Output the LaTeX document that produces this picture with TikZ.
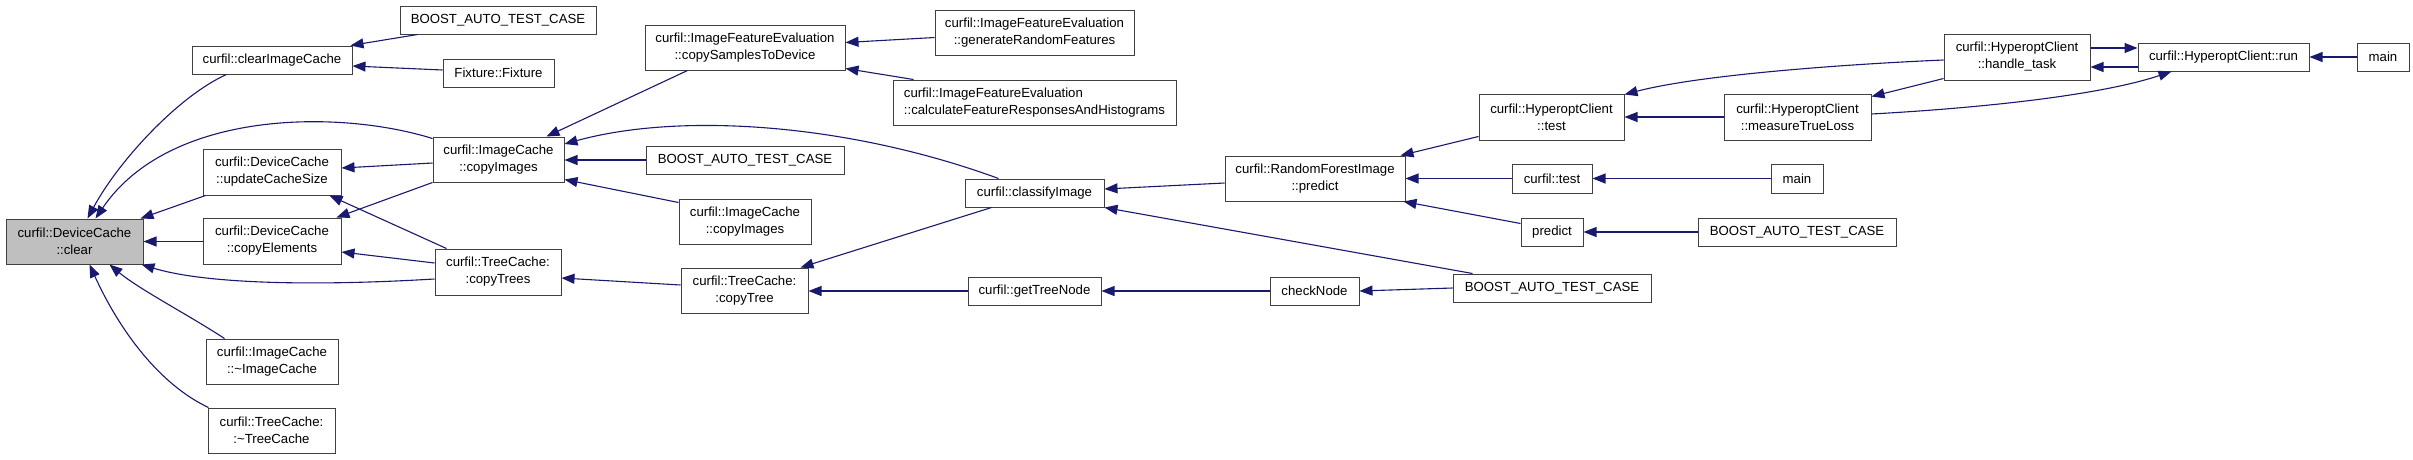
\documentclass[tikz,border=0pt]{standalone}
\usepackage{fontspec}
\setmainfont{Liberation Sans}
\usetikzlibrary{arrows.meta,calc}
\definecolor{dblue}{HTML}{191970}
\definecolor{selgray}{HTML}{BFBFBF}
\tikzset{
  box/.style={draw=black!75, line width=1pt, fill=white, inner sep=0pt, align=center,
    font=\fontsize{13.2}{17}\selectfont},
  conn/.style={draw=dblue, line width=1.1pt, {Triangle[length=13pt,width=10pt]}-},
}
\begin{document}
\begin{tikzpicture}[x=1pt,y=-1pt]
\fill[white] (0,0) rectangle (2413,459);
\useasboundingbox (0,0) rectangle (2413,459);
% column 1
\node[box, fill=selgray, minimum width=137pt, minimum height=45pt] (clear) at (74.5,241.5) {curfil::DeviceCache\\::clear};
% column 2
\node[box, minimum width=160pt, minimum height=28pt] (cic) at (272,60) {curfil::clearImageCache};
\node[box, minimum width=138pt, minimum height=46pt] (ucs) at (272,172) {curfil::DeviceCache\\::updateCacheSize};
\node[box, minimum width=138pt, minimum height=46pt] (cel) at (272,241) {curfil::DeviceCache\\::copyElements};
\node[box, minimum width=132pt, minimum height=45pt] (dimg) at (272,361.5) {curfil::ImageCache\\::\textasciitilde ImageCache};
\node[box, minimum width=127pt, minimum height=45pt] (dtr) at (271.5,430.5) {curfil::TreeCache:\\:\textasciitilde TreeCache};
% column 3
\node[box, minimum width=196pt, minimum height=28pt] (b1) at (498,20) {BOOST\_AUTO\_TEST\_CASE};
\node[box, minimum width=111pt, minimum height=28pt] (fix) at (498.5,73) {Fixture::Fixture};
\node[box, minimum width=131pt, minimum height=45pt] (cia) at (498.5,159.5) {curfil::ImageCache\\::copyImages};
\node[box, minimum width=126pt, minimum height=46pt] (ctrs) at (498,272) {curfil::TreeCache:\\:copyTrees};
% column 4
\node[box, minimum width=200pt, minimum height=45pt] (cstd) at (745,47.5) {curfil::ImageFeatureEvaluation\\::copySamplesToDevice};
\node[box, minimum width=198pt, minimum height=28pt] (b2) at (745,160) {BOOST\_AUTO\_TEST\_CASE};
\node[box, minimum width=132pt, minimum height=45pt] (cib) at (745,221.5) {curfil::ImageCache\\::copyImages};
\node[box, minimum width=127pt, minimum height=45pt] (ctr) at (744.5,290.5) {curfil::TreeCache:\\:copyTree};
% column 5
\node[box, minimum width=199pt, minimum height=45pt] (grf) at (1034.5,32.5) {curfil::ImageFeatureEvaluation\\::generateRandomFeatures};
\node[box, align=left, minimum width=283pt, minimum height=45pt] (cfr) at (1034.5,102.5) {curfil::ImageFeatureEvaluation\\::calculateFeatureResponsesAndHistograms};
\node[box, minimum width=139pt, minimum height=28pt] (cls) at (1034.5,193) {curfil::classifyImage};
\node[box, minimum width=133pt, minimum height=28pt] (gtn) at (1034.5,291) {curfil::getTreeNode};
% column 6
\node[box, minimum width=180pt, minimum height=45pt] (rfp) at (1315,178.5) {curfil::RandomForestImage\\::predict};
\node[box, minimum width=89pt, minimum height=28pt] (chk) at (1314.5,291) {checkNode};
% column 7
\node[box, minimum width=145pt, minimum height=46pt] (hct) at (1551.5,117) {curfil::HyperoptClient\\::test};
\node[box, minimum width=80pt, minimum height=29pt] (ct) at (1552,178.5) {curfil::test};
\node[box, minimum width=62pt, minimum height=28pt] (pr) at (1552,232) {predict};
\node[box, minimum width=198pt, minimum height=28pt] (b3) at (1552,288) {BOOST\_AUTO\_TEST\_CASE};
% column 8
\node[box, minimum width=147pt, minimum height=46pt] (mtl) at (1797.5,117) {curfil::HyperoptClient\\::measureTrueLoss};
\node[box, minimum width=52pt, minimum height=29pt] (m1) at (1797,178.5) {main};
\node[box, minimum width=198pt, minimum height=28pt] (b4) at (1797,232) {BOOST\_AUTO\_TEST\_CASE};
% column 9-11
\node[box, minimum width=146pt, minimum height=46pt] (ht) at (2017,57) {curfil::HyperoptClient\\::handle\_task};
\node[box, minimum width=171pt, minimum height=28pt] (run) at (2223.5,57) {curfil::HyperoptClient::run};
\node[box, minimum width=52pt, minimum height=28pt] (m2) at (2383,57) {main};

% connectors (arrow tip at the callee)
\draw[conn] ($(clear.north west)+(82,0)$) .. controls +(32,-59) and +(-47,21) .. ($(cic.south west)+(35,0)$);
\draw[conn] ($(clear.north west)+(90,0)$) .. controls +(74,-109) and +(-93,-29) .. ($(cia.north west)+(0,2)$);
\draw[conn] ($(clear.north east)+(-3,0)$) -- ($(ucs.south west)+(3,0)$);
\draw[conn] (clear.east) -- (clear.east -| cel.west);
\draw[conn] ($(clear.south east)+(-2,0)$) .. controls +(59,18) and +(-135,8) .. ($(ctrs.west)+(0,7)$);
\draw[conn] ($(clear.south west)+(104,0)$) .. controls +(30,25) and +(-35,-23) .. ($(dimg.north west)+(19,0)$);
\draw[conn] ($(clear.south west)+(84,0)$) .. controls +(30,66) and +(-49,-23) .. ($(dtr.north west)+(1,0)$);

\draw[conn] ($(cic.north east)+(-2,0)$) -- ($(b1.south west)+(18,0)$);
\draw[conn] ($(cic.east)+(0,6)$) -- ($(fix.west)+(0,-3)$);

\draw[conn] ($(ucs.east)+(0,-4)$) -- ($(cia.west)+(0,3.5)$);
\draw[conn] ($(ucs.south east)+(-12,0)$) -- ($(ctrs.north west)+(12,0)$);
\draw[conn] ($(cel.north east)+(-5,0)$) -- (cia.south west);
\draw[conn] ($(cel.east)+(0,11)$) -- ($(ctrs.west)+(0,-9)$);

\draw[conn] ($(cia.north east)+(-18,0)$) -- ($(cstd.south west)+(43,0)$);
\draw[conn] ($(cia.east)+(0,-15.5)$) .. controls +(116,-32) and +(-150,-55) .. ($(cls.north west)+(34,0)$);
\draw[conn] (b2.west -| cia.east) -- (b2.west);
\draw[conn] ($(cia.south east)+(0,-3)$) -- ($(cib.north west)+(0,4)$);
\draw[conn] ($(ctrs.east)+(0,6)$) -- ($(ctr.west)+(0,-5.5)$);

\draw[conn] ($(cstd.east)+(0,-5)$) -- ($(grf.west)+(0,5)$);
\draw[conn] ($(cstd.south east)+(0,-2)$) -- ($(cfr.north west)+(21,0)$);

\draw[conn] ($(cls.east)+(0,-4)$) -- ($(rfp.west)+(0,4.5)$);
\draw[conn] (cls.south east) -- ($(b3.north west)+(20,0)$);
\draw[conn] ($(ctr.north east)+(-8,0)$) -- ($(cls.south west)+(27,0)$);
\draw[conn] (gtn.west -| ctr.east) -- (gtn.west);
\draw[conn] (gtn.east) -- (chk.west);
\draw[conn] (chk.east) -- (b3.west);

\draw[conn] ($(rfp.north east)+(-5,0)$) -- ($(hct.south west)+(0,-4)$);
\draw[conn] (ct.west -| rfp.east) -- (ct.west);
\draw[conn] ($(rfp.south east)+(-2,0)$) -- ($(pr.north west)+(0,6)$);

\draw[conn] ($(hct.north east)+(0,1)$) .. controls +(76,-20) and +(-94,4) .. ($(ht.west)+(0,3)$);
\draw[conn] (hct.east) -- (mtl.west);
\draw[conn] (ct.east) -- (m1.west);
\draw[conn] (pr.east) -- (b4.west);

\draw[conn] ($(mtl.north east)+(0,3)$) -- ($(ht.south west)+(0,-2)$);
\draw[conn] ($(ht.east)+(0,10)$) -- ($(run.west)+(0,10)$);
\draw[conn] ($(run.west)+(0,-9)$) -- ($(ht.east)+(0,-9)$);
\draw[conn] ($(run.south west)+(34,0)$) .. controls +(-72,24) and +(109,-6) .. ($(mtl.east)+(0,-3)$);
\draw[conn] (run.east) -- (m2.west);
\end{tikzpicture}
\end{document}
